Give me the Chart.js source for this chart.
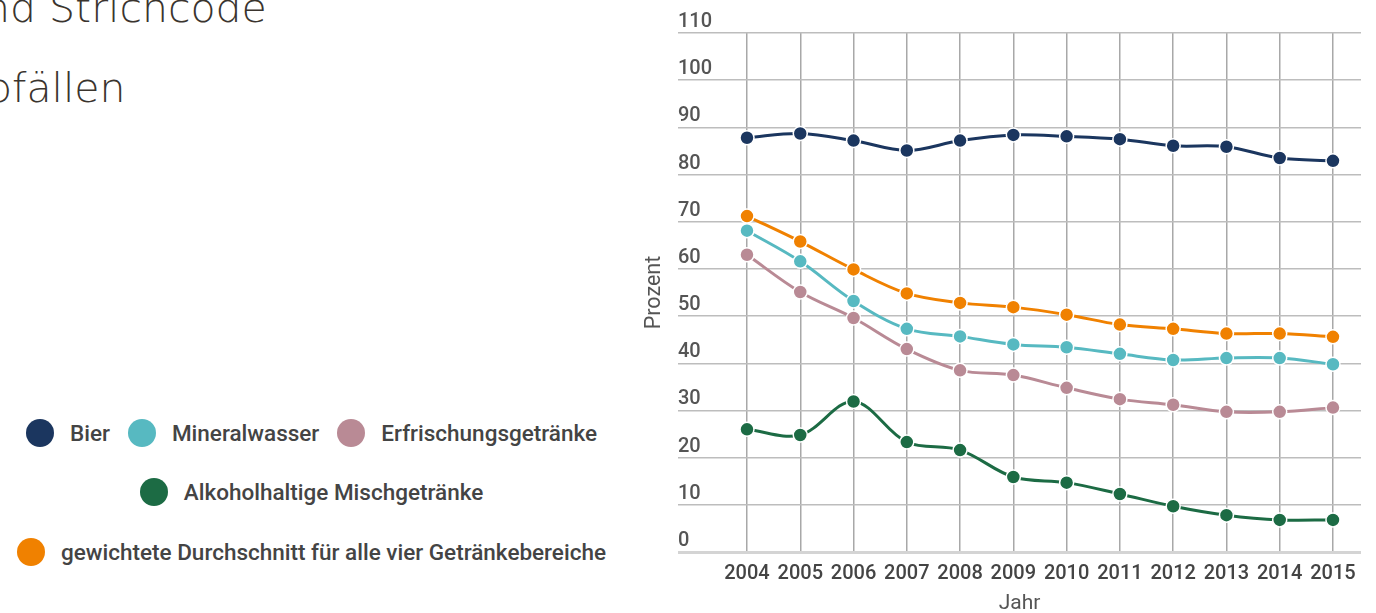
<!DOCTYPE html>
<html lang="de">
<head>
<meta charset="utf-8">
<title>Mehrweganteil Getränke</title>
<script src="https://cdn.jsdelivr.net/npm/chart.js@4.4.1/dist/chart.umd.min.js"></script>
<style>
  html, body { margin: 0; padding: 0; background: #fff; }
  body { width: 1376px; height: 613px; overflow: hidden; position: relative; font-family: Roboto, sans-serif; }
  .heading { position: absolute; font-family: "DejaVu Sans"; font-weight: 200; font-size: 41px; line-height: 1; color: #3a342e; white-space: nowrap; }
  #legend { position: absolute; left: 0; top: 403px; width: 623px; }
  .row { display: flex; justify-content: center; align-items: center; height: 59.5px; }
  .item { display: flex; align-items: center; margin: 0 9px; }
  .dot { width: 28px; height: 28px; border-radius: 50%; margin-right: 16px; }
  .item span { font-size: 22.5px; font-weight: 500; color: #444; white-space: nowrap; }
  #wrap { position: absolute; left: 640px; top: 0; width: 736px; height: 613px; }
</style>
</head>
<body>
<div class="heading" style="left:-16px; top:-12px;">nd Strichcode</div>
<div class="heading" style="left:-14px; top:68px;">bfällen</div>
<div id="legend"></div>
<div id="wrap"><canvas id="mehrwegChart"></canvas></div>

<script>
// Jahre und Werte (Prozent)
const years = [2004, 2005, 2006, 2007, 2008, 2009, 2010, 2011, 2012, 2013, 2014, 2015];
const yTicks = [0, 10, 20, 30, 40, 50, 60, 70, 80, 90, 100, 110];

const bier = [87.8, 88.7, 87.2, 85.1, 87.2, 88.4, 88.1, 87.5, 86.1, 85.9, 83.5, 82.9];
const mineralwasser = [68.1, 61.6, 53.2, 47.3, 45.7, 44.0, 43.4, 42.0, 40.7, 41.1, 41.1, 39.8];
const erfrischung = [63.0, 55.1, 49.6, 43.0, 38.5, 37.5, 34.8, 32.4, 31.2, 29.7, 29.7, 30.6];
const alkohol = [26.0, 24.8, 31.9, 23.3, 21.6, 15.9, 14.7, 12.3, 9.7, 7.8, 6.8, 6.8];
const durchschnitt = [71.2, 65.8, 59.9, 54.8, 52.8, 51.9, 50.3, 48.2, 47.3, 46.3, 46.3, 45.6];

const seriesNames = ['Bier', 'Mineralwasser', 'Erfrischungsgetränke', 'Alkoholhaltige Mischgetränke',
    'gewichtete Durchschnitt für alle vier Getränkebereiche'];
const seriesData = [bier, mineralwasser, erfrischung, alkohol, durchschnitt];
const seriesColors = ['#1b365f', '#57b9c1', '#b98a95', '#1c6b44', '#f08100'];
const legendRows = [[0, 1, 2], [3], [4]];

// Legende links
const legend = document.getElementById('legend');
legendRows.forEach(row => {
    const r = document.createElement('div');
    r.className = 'row';
    row.forEach(i => {
        const item = document.createElement('div');
        item.className = 'item';
        item.innerHTML = '<div class="dot" style="background:' + seriesColors[i] + '"></div><span>' + seriesNames[i] + '</span>';
        r.appendChild(item);
    });
    legend.appendChild(r);
});

const datasets = seriesData.map((vals, i) => ({
    label: seriesNames[i],
    data: years.map((y, j) => ({ x: y, y: vals[j] })),
    borderColor: seriesColors[i],
    backgroundColor: seriesColors[i],
    pointBackgroundColor: seriesColors[i],
    pointBorderColor: '#fff',
    pointBorderWidth: 1.5,
    pointRadius: 7,
    borderWidth: 3,
    tension: 0.35,
    clip: false
}));

const ctx = document.getElementById('mehrwegChart').getContext('2d');
const chart = new Chart(ctx, {
    type: 'line',
    data: { datasets: datasets },
    options: {
        responsive: true,
        maintainAspectRatio: false,
        animation: false,
        layout: { padding: { top: 33, right: 15, left: 0, bottom: 0 } },
        plugins: {
            legend: { display: false },
            tooltip: { enabled: false }
        },
        scales: {
            x: {
                type: 'linear',
                min: 2002.705,
                max: 2015.526,
                afterBuildTicks: axis => { axis.ticks = years.map(v => ({ value: v })); },
                afterFit: scale => { scale.height = 61; },
                grid: { color: '#a8a8a8', lineWidth: 1.5, drawTicks: false },
                border: { display: false },
                ticks: {
                    callback: v => String(v),
                    font: { family: 'Roboto', size: 20, weight: '500' },
                    color: '#444',
                    padding: 10,
                    maxRotation: 0,
                    autoSkip: false
                },
                title: {
                    display: true,
                    text: 'Jahr',
                    font: { family: 'Roboto', size: 21 },
                    color: '#555',
                    padding: { top: 0, bottom: -3 }
                }
            },
            y: {
                min: 0,
                max: 110,
                afterBuildTicks: axis => { axis.ticks = yTicks.map(v => ({ value: v })); },
                afterFit: scale => { scale.width = 38; },
                grid: {
                    color: c => c.tick && c.tick.value === 0 ? '#d4d4d4' : '#bdbdbd',
                    lineWidth: c => c.tick && c.tick.value === 0 ? 3 : 1.5,
                    drawTicks: false
                },
                border: { display: false },
                ticks: {
                    mirror: true,
                    labelOffset: -11,
                    padding: 0,
                    font: { family: 'Roboto', size: 20, weight: '500' },
                    color: '#555'
                },
                title: {
                    display: true,
                    text: 'Prozent',
                    font: { family: 'Roboto', size: 21.5 },
                    color: '#555',
                    padding: 2
                }
            }
        }
    }
});
</script>
</body>
</html>
